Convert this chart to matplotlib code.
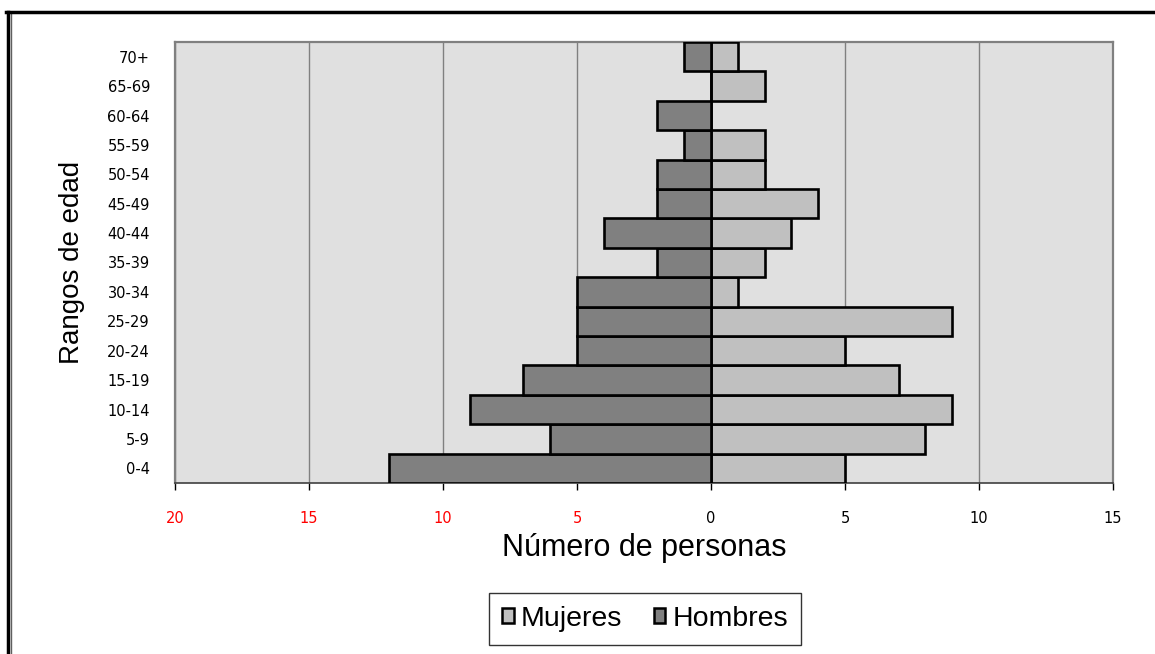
import numpy as np
import matplotlib.pyplot as plt
from matplotlib.lines import Line2D

plt.rcParams['font.family'] = ['Liberation Sans', 'DejaVu Sans']

# age groups, bottom to top
grupos = ['0-4', '5-9', '10-14', '15-19', '20-24', '25-29', '30-34', '35-39',
          '40-44', '45-49', '50-54', '55-59', '60-64', '65-69', '70+']
hombres = [12, 6, 9, 7, 5, 5, 5, 2, 4, 2, 2, 1, 2, 0, 1]
mujeres = [5, 8, 9, 7, 5, 9, 1, 2, 3, 4, 2, 2, 0, 2, 1]

xticks = [-20, -15, -10, -5, 0, 5, 10, 15]
xlabels = ['20', '15', '10', '5', '0', '5', '10', '15']

fig = plt.figure(figsize=(11.55, 6.54), dpi=100)
ax = fig.add_axes([175/1155, 1 - 483/654, (1113 - 175)/1155, (483 - 42)/654])
ax.set_facecolor('#E0E0E0')

y = np.arange(len(grupos))
ax.barh(y, mujeres, height=1.0, color='#C0C0C0', edgecolor='black',
        linewidth=1.9, label='Mujeres', zorder=3)
ax.barh(y, -np.array(hombres), height=1.0, color='#808080', edgecolor='black',
        linewidth=1.9, label='Hombres', zorder=3)

ax.set_xlim(-20, 15)
ax.set_ylim(-0.5, len(grupos) - 0.5)
ax.set_xticks(xticks)
ax.set_xticklabels(xlabels, fontsize=10.5, family='DejaVu Sans')
for lab, v in zip(ax.get_xticklabels(), xticks):
    lab.set_color('red' if v < 0 else 'black')
ax.set_yticks(y)
ax.set_yticklabels(grupos, fontsize=10.5, family='DejaVu Sans')

ax.grid(axis='x', color='#808080', linewidth=1, zorder=0)
ax.tick_params(axis='x', length=5, width=1, direction='out', pad=15, color='black')
ax.tick_params(axis='y', length=0, pad=18)

for s in ['top', 'right', 'left']:
    ax.spines[s].set_color('#808080')
    ax.spines[s].set_linewidth(1.6)
ax.spines['bottom'].set_color('#404040')
ax.spines['bottom'].set_linewidth(1.2)

ax.set_xlabel('Número de personas', fontsize=22, labelpad=5)
ax.set_ylabel('Rangos de edad', fontsize=20, labelpad=16)

ax.legend(loc='center', bbox_to_anchor=(645/1155, 1 - 619/654),
          bbox_transform=fig.transFigure, ncol=2, fontsize=20.5,
          frameon=True, fancybox=False, edgecolor='black',
          handlelength=0.42, handleheight=0.42, handletextpad=0.25,
          columnspacing=1.1, borderpad=0.45, borderaxespad=0)
leg = ax.get_legend()
leg.get_frame().set_linewidth(1.0)
for h in leg.legend_handles:
    h.set_linewidth(1.8)

# outer chart border (top and left)
fig.add_artist(Line2D([7.5/1155, 7.5/1155], [0, 1 - 11.5/654], color='black', linewidth=2.5))
fig.add_artist(Line2D([11/1155, 11/1155], [0, 1 - 11.5/654], color='#606060', linewidth=1))
fig.add_artist(Line2D([6/1155, 1], [1 - 11.5/654, 1 - 11.5/654], color='black', linewidth=2.5))

fig.savefig('out.png', dpi=100)
